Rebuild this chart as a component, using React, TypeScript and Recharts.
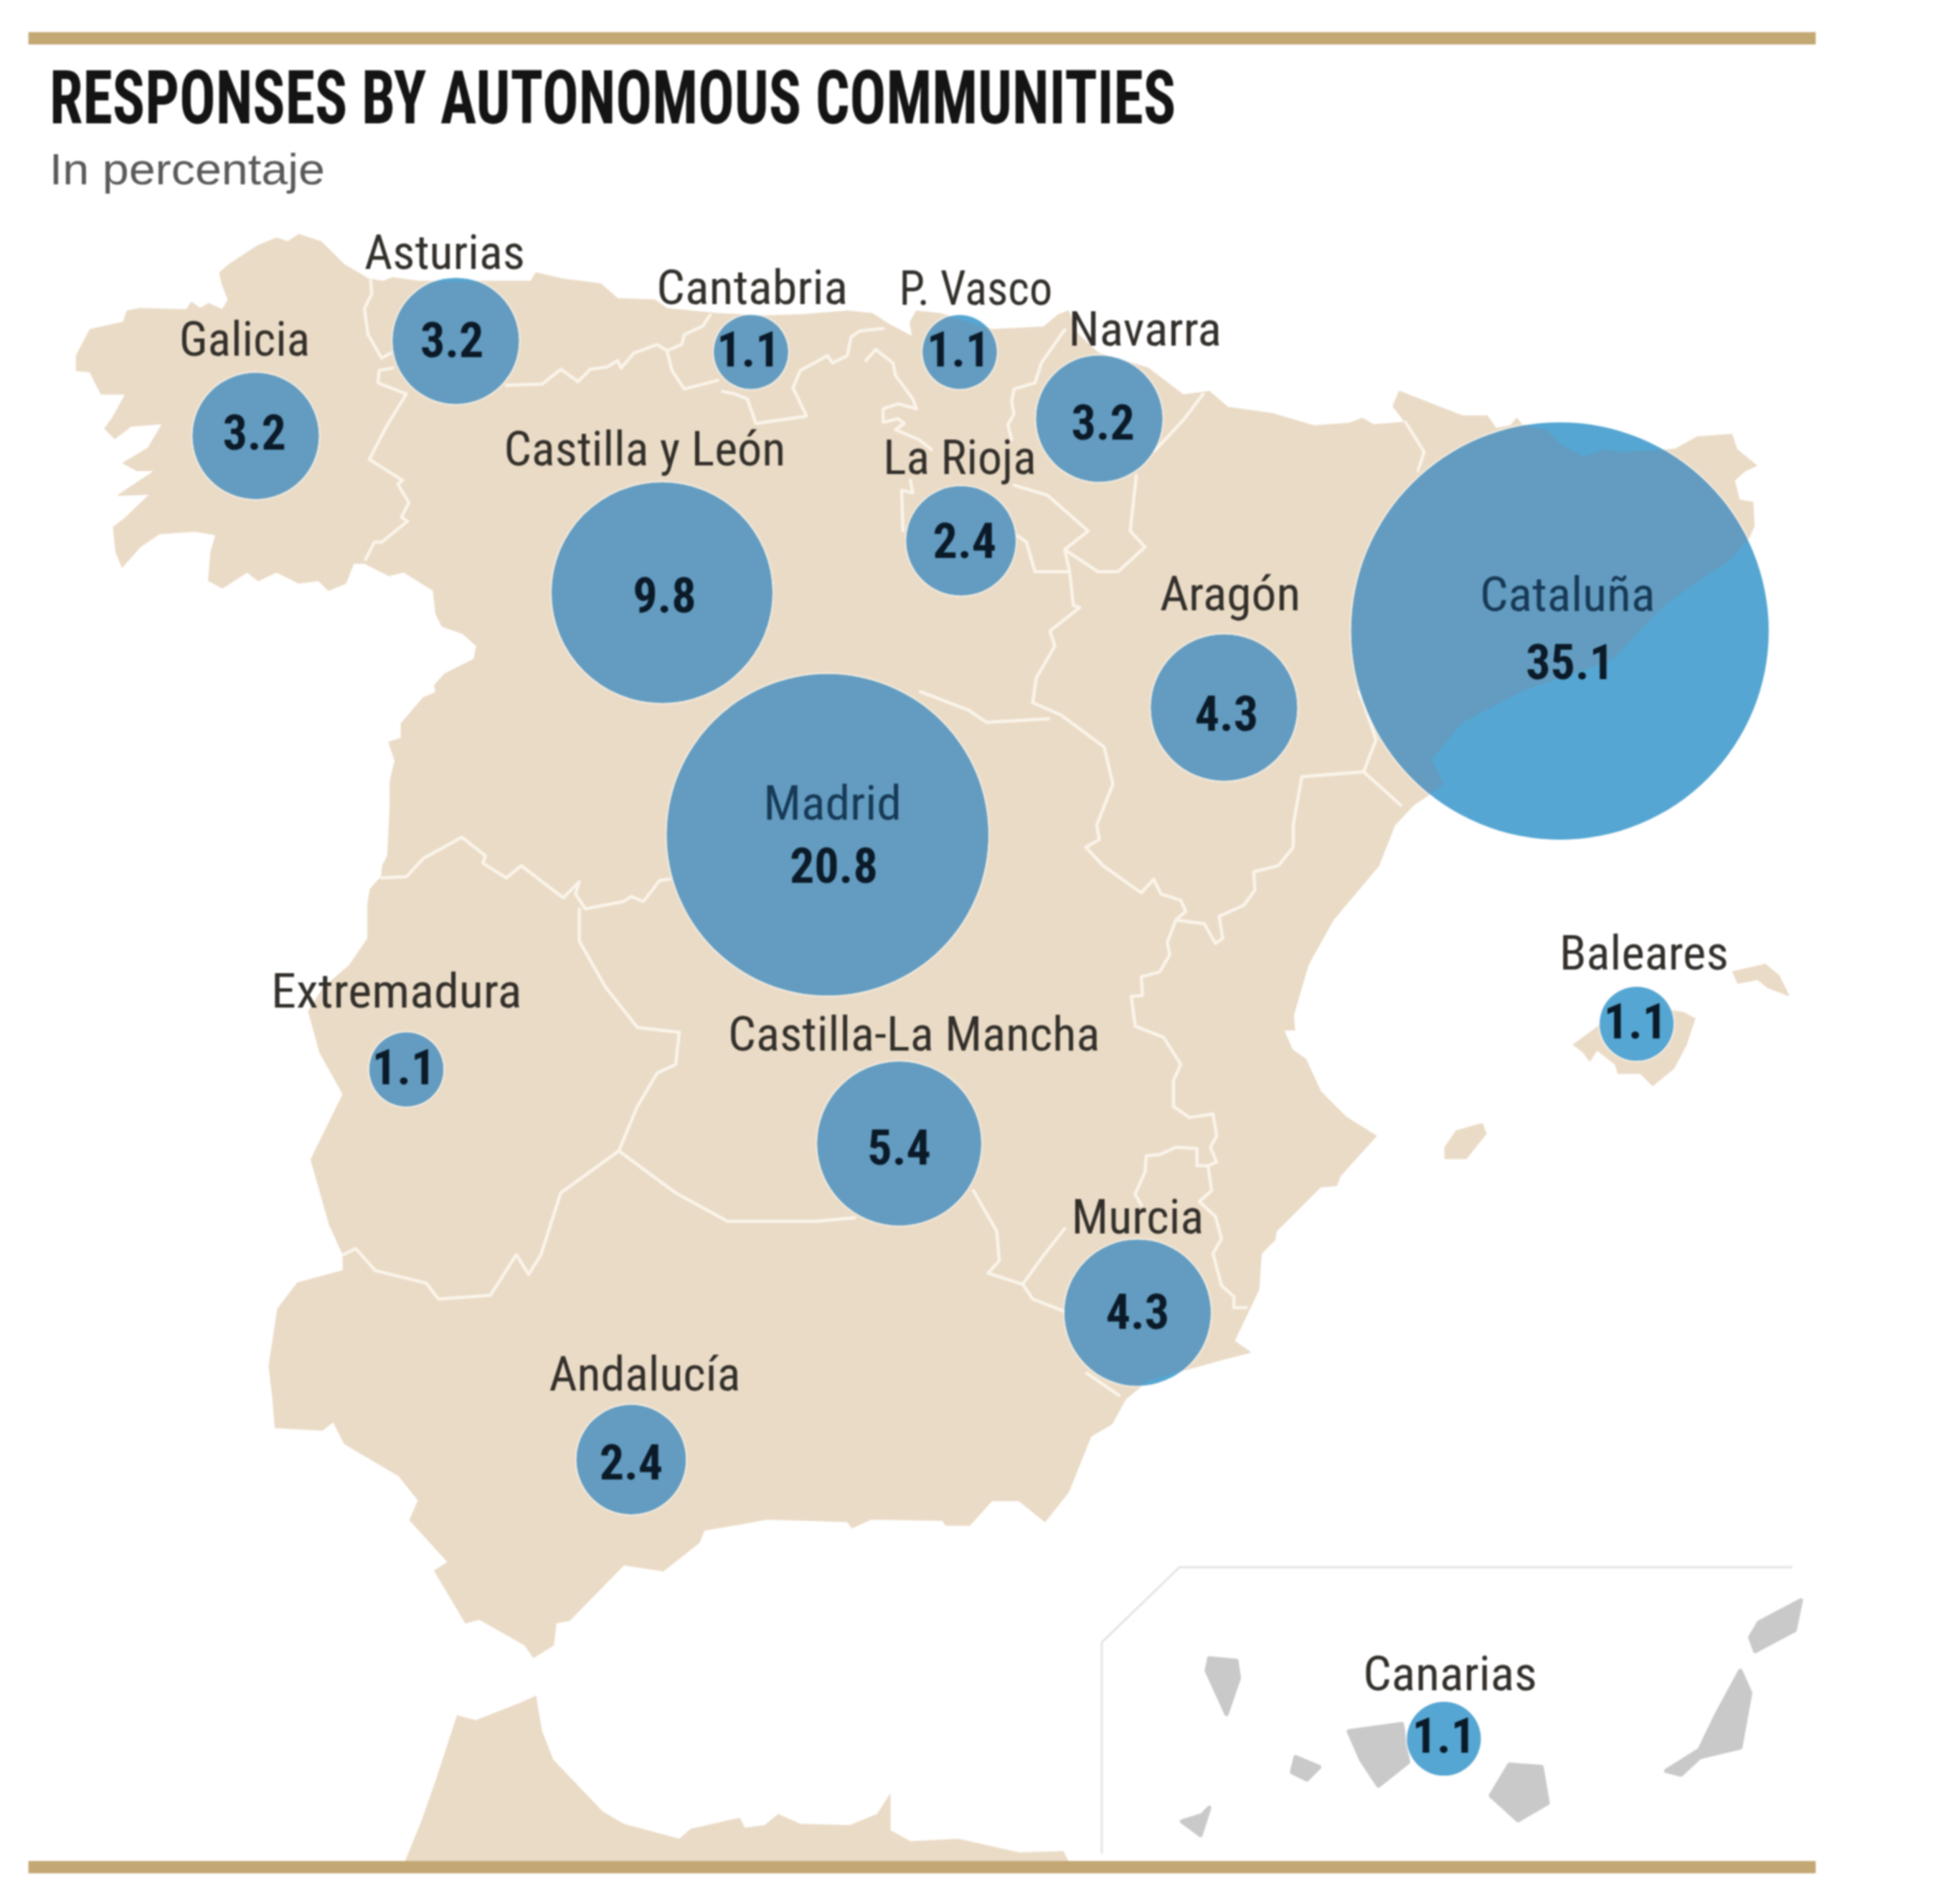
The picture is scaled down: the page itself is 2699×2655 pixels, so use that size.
import React from 'react';
import { ScatterChart, Scatter, XAxis, YAxis, ZAxis, Customized } from 'recharts';

const W = 2699, H = 2655, DW = 1567.4, DH = 1541.8;
const K = W / DW;

const regions = ['Galicia','Asturias','Cantabria','P. Vasco','Navarra','Castilla y León','La Rioja','Aragón','Cataluña','Madrid','Extremadura','Castilla-La Mancha','Murcia','Andalucía','Baleares','Canarias'];
const shares = [3.2,3.2,1.1,1.1,3.2,9.8,2.4,4.3,35.1,20.8,1.1,5.4,4.3,2.4,1.1,1.1];
const bubbleX = [207,369,608,777,890,536,778,991,1263,670,329,728,921,511,1325,1169];
const bubbleY = [353,276,285,285,339,480,438,573,511,676,866,926,1063,1182,829,1408];
const nameX = [198,360,609,790,927,522,777,996,1269,674,321,740,921,522,1331,1174];
const nameY = [288,218,246,247,280,377,384,494,495,664,816,851,999,1126,785,1369];
const nameW = [106,130,155,124,124,228,124,114,142,112,203,301,107,155,137,141];
const valueX = [206,366,606,776,893,538,781,993,1271,675,327,728,921,511,1324,1169];
const valueY = [364,289,297,297,356,496,452,592,550,715,878,943,1076,1198,841,1419];

const bubbles = regions.map((name, i) => ({ name, v: shares[i], x: bubbleX[i], y: bubbleY[i] }));
const names = regions.map((name, i) => ({ name, x: nameX[i], y: nameY[i], w: nameW[i] }));
const values = regions.map((_, i) => ({ v: shares[i], x: valueX[i], y: valueY[i] }));

type P = number[][];
const mainland: P = [[242,190],[260,196],[278,214],[298,226],[310,228],[318,225],[339,228],[399,228],[430,228],[434,221],[455,226],[486,230],[500,242],[530,243],[540,250],[581,254],[620,256],[650,255],[686,252],[706,254],[720,263],[739,273],[737,261],[742,252],[761,254],[804,267],[845,265],[857,255],[865,252],[872,270],[889,286],[929,298],[958,320],[979,317],[994,330],[1030,335],[1064,345],[1092,343],[1103,339],[1112,344],[1138,342],[1128,329],[1133,317],[1184,337],[1204,337],[1211,347],[1223,345],[1228,339],[1232,344],[1252,348],[1264,360],[1282,370],[1298,364],[1310,366],[1356,364],[1374,354],[1402,352],[1406,364],[1422,377],[1413,381],[1404,389],[1408,405],[1419,407],[1420,426],[1415,437],[1399,455],[1383,465],[1349,489],[1304,535],[1234,559],[1184,585],[1159,615],[1169,635],[1144,652],[1129,668],[1116,701],[1079,745],[1059,781],[1047,822],[1048,834],[1039,834],[1046,850],[1057,858],[1069,884],[1090,905],[1114,920],[1085,952],[1082,960],[1069,961],[1033,997],[1032,1004],[1021,1015],[1019,1044],[999,1086],[1012,1095],[989,1101],[960,1109],[929,1118],[911,1133],[900,1153],[883,1163],[865,1208],[846,1232],[825,1215],[803,1215],[785,1235],[766,1235],[763,1231],[705,1230],[690,1237],[686,1232],[621,1230],[599,1234],[570,1239],[566,1249],[537,1272],[505,1267],[461,1312],[450,1314],[448,1332],[432,1342],[425,1332],[388,1311],[377,1314],[352,1272],[363,1265],[332,1231],[339,1215],[323,1195],[279,1169],[270,1151],[261,1158],[223,1156],[221,1132],[218,1106],[225,1060],[241,1039],[278,1029],[278,1016],[267,992],[252,939],[278,886],[259,852],[250,819],[262,800],[283,782],[298,760],[298,732],[300,720],[309,710],[310,701],[314,693],[316,654],[316,633],[320,616],[315,601],[325,598],[325,586],[343,565],[353,561],[352,555],[360,546],[384,534],[386,523],[375,513],[358,507],[353,497],[351,478],[327,463],[315,466],[295,456],[286,456],[280,472],[266,478],[258,470],[242,472],[224,463],[209,470],[200,463],[180,476],[169,470],[171,447],[175,433],[158,430],[129,432],[113,443],[99,459],[94,447],[92,427],[100,421],[122,400],[96,401],[126,381],[111,381],[100,375],[120,363],[132,343],[106,345],[93,355],[85,347],[91,339],[102,319],[82,319],[73,301],[62,300],[62,288],[73,267],[100,261],[103,252],[113,250],[151,251],[155,245],[162,250],[169,246],[180,251],[185,243],[180,230],[178,221],[186,214],[209,199],[224,193],[233,196]];
const morocco: P = [[328,1507],[341,1475],[354,1438],[370,1389],[385,1393],[421,1379],[434,1373],[439,1402],[448,1425],[488,1467],[505,1477],[550,1489],[559,1481],[599,1472],[603,1480],[619,1478],[630,1469],[648,1477],[688,1478],[710,1469],[721,1452],[721,1482],[737,1491],[776,1489],[825,1500],[861,1499],[865,1507]];
const mallorca: P = [[1274,846],[1293,832],[1326,801],[1355,819],[1363,820],[1372,825],[1365,846],[1355,865],[1338,879],[1328,869],[1310,869],[1308,862],[1293,850],[1287,859],[1282,852]];
const menorca: P = [[1403,787],[1429,781],[1440,790],[1448,806],[1432,800],[1423,793],[1407,796]];
const ibiza: P = [[1179,916],[1200,910],[1203,918],[1187,938],[1170,938],[1170,929]];
const laPalma: P = [[979,1343],[1001,1345],[1003,1359],[993,1388],[977,1353]];
const tenerife: P = [[1092,1402],[1135,1396],[1140,1427],[1116,1446],[1102,1425]];
const gomera: P = [[1049,1423],[1068,1431],[1058,1441],[1046,1435]];
const hierro: P = [[979,1464],[972,1486],[957,1475],[973,1470]];
const granCanaria: P = [[1222,1429],[1248,1431],[1253,1460],[1229,1474],[1207,1454]];
const fuerteventura: P = [[1409,1353],[1417,1371],[1409,1415],[1376,1423],[1361,1437],[1349,1434],[1376,1417],[1390,1388]];
const lanzarote: P = [[1458,1296],[1453,1320],[1421,1337],[1417,1326],[1424,1314]];
const insetFrame: P = [[892,1501],[892,1330],[955,1269],[1451,1269]];

const borders: P[] = [
  [[300,226],[301,238],[295,250],[298,271],[309,290],[316,286]],
  [[318,298],[307,300],[306,310],[329,319],[313,345],[299,372],[326,389],[322,392],[331,407],[325,419],[330,422],[309,439],[303,439],[296,453]],
  [[410,312],[439,311],[454,299],[468,309],[478,299],[492,297],[500,292],[503,298],[513,286],[532,279],[540,284],[544,300],[554,315],[581,308]],
  [[540,284],[552,279],[554,271],[569,264],[575,255]],
  [[585,317],[595,319],[605,323],[612,343],[653,337],[642,314],[648,300],[670,288],[674,294],[686,288],[689,273],[696,268],[715,266]],
  [[701,292],[709,283],[723,294],[725,304],[739,323],[742,331],[727,327],[715,331],[715,342],[727,339],[732,343],[725,348],[744,356],[754,364]],
  [[737,389],[739,399],[730,397],[731,430]],
  [[862,267],[843,294],[838,310],[821,315],[819,325],[821,335],[816,344],[819,356]],
  [[821,393],[848,401],[881,430],[862,445],[866,463],[838,463],[831,439],[824,434]],
  [[862,445],[889,463],[905,463],[927,443],[915,430],[920,385]],
  [[974,319],[959,339],[935,365]],
  [[866,463],[869,490],[874,492],[850,511],[854,523],[839,549],[836,569],[859,579],[894,605],[901,635],[888,668],[890,680],[879,686],[893,701],[924,723],[934,712],[940,724],[956,729],[960,738],[952,745]],
  [[849,582],[799,585],[784,575],[745,560]],
  [[1138,342],[1153,366],[1148,381]],
  [[1100,560],[1104,569],[1114,599],[1104,625],[1134,652]],
  [[1104,625],[1054,629],[1047,668],[1047,686],[1035,701],[1015,706],[1016,721],[1007,733],[987,742],[990,760],[984,764],[975,748],[952,745]],
  [[952,745],[945,763],[947,773],[939,787],[924,791],[925,806],[916,807],[919,831],[942,840],[956,862],[950,875],[950,896],[963,905],[982,902],[985,920],[980,929],[985,941],[978,944],[981,964],[971,973],[984,985],[989,1003],[982,1015],[989,1041],[999,1050],[999,1059],[1009,1059]],
  [[978,944],[969,944],[969,930],[952,929],[939,935],[928,936],[927,949],[919,967],[924,976]],
  [[862,995],[846,1015],[828,1040]],
  [[788,964],[807,997],[809,1021],[800,1031],[828,1040],[836,1052],[862,1062]],
  [[880,1112],[906,1130]],
  [[501,932],[547,966],[589,989],[661,989],[692,986]],
  [[469,736],[469,762],[490,799],[516,832],[550,836],[547,862],[532,869],[516,896],[501,932]],
  [[501,932],[454,966],[438,1016],[428,1032],[418,1016],[397,1049],[355,1052],[345,1039],[304,1029],[288,1011],[278,1016]],
  [[309,711],[329,710],[343,695],[374,678],[393,693],[391,699],[410,711],[422,701],[456,727],[469,714],[466,724],[474,736],[505,730],[511,726],[521,730],[534,713],[542,712]],
];

const sx = (v: number) => v * K;
const d = (p: P, close = true) => p.map((q, i) => `${i ? 'L' : 'M'}${sx(q[0]).toFixed(1)} ${sx(q[1]).toFixed(1)}`).join(' ') + (close ? ' Z' : '');

const LAND = '#EADBC6', GREY = '#C9C9C9', GOLD = '#C3A874', BUBBLE_SEA = '#55A6D2', BUBBLE_LAND = '#639CC0';
const NARROW = '"Liberation Sans Narrow","Roboto Condensed","Liberation Sans",sans-serif';

const MapLayer = () => (
  <g>
    <defs>
      <clipPath id="landClip"><path d={d(mainland)} /></clipPath>
    </defs>
    <rect x={sx(23)} y={sx(26)} width={sx(1447)} height={sx(10)} fill={GOLD} />
    <path d={d(morocco)} fill={LAND} />
    <path d={d(mainland)} fill={LAND} stroke={LAND} strokeWidth={2} strokeLinejoin="round" />
    {[mallorca, menorca, ibiza].map((p, i) => (
      <path key={i} d={d(p)} fill={LAND} stroke={LAND} strokeWidth={2} strokeLinejoin="round" />
    ))}
    {borders.map((p, i) => (
      <path key={i} d={d(p, false)} fill="none" stroke="#FAF4EA" strokeWidth={4.5} strokeLinejoin="round" strokeLinecap="round" />
    ))}
    {[laPalma, tenerife, gomera, hierro, granCanaria, fuerteventura, lanzarote].map((p, i) => (
      <path key={i} d={d(p)} fill={GREY} stroke={GREY} strokeWidth={6} strokeLinejoin="round" />
    ))}
    <path d={d(insetFrame, false)} fill="none" stroke="#E4E4E2" strokeWidth={3} />
    <rect x={sx(23)} y={sx(1507)} width={sx(1447)} height={sx(10)} fill={GOLD} />
    <text x={sx(40)} y={sx(100)} fontFamily={NARROW} fontWeight={700} fontSize={104} fill="#141414"
      textLength={sx(912)} lengthAdjust="spacingAndGlyphs">RESPONSES BY AUTONOMOUS COMMUNITIES</text>
    <text x={sx(40)} y={sx(149)} fontFamily={'"Liberation Sans",sans-serif'} fontSize={62} fill="#5A5A5A"
      textLength={sx(223)} lengthAdjust="spacingAndGlyphs">In percentaje</text>
  </g>
);

const BubbleShape = (props: any) => {
  const { cx, cy, size } = props;
  const r = Math.sqrt(size / Math.PI);
  return (
    <g>
      <circle cx={cx} cy={cy} r={r + 2.5} fill="#FFFFFF" fillOpacity={0.4} />
      <circle cx={cx} cy={cy} r={r} fill={BUBBLE_SEA} />
      <circle cx={cx} cy={cy} r={r} fill={BUBBLE_LAND} clipPath="url(#landClip)" />
    </g>
  );
};

const NameShape = (props: any) => {
  const { cx, cy, payload } = props;
  const over = payload.name === 'Madrid' || payload.name === 'Cataluña';
  return (
    <text x={cx} y={cy} textAnchor="middle" fontFamily={NARROW} fontSize={66} fill={over ? '#173A56' : '#33302B'}
      textLength={payload.w * K} lengthAdjust="spacingAndGlyphs">{payload.name}</text>
  );
};

const ValueShape = (props: any) => {
  const { cx, cy, payload } = props;
  return (
    <text x={cx} y={cy} textAnchor="middle" fontFamily={NARROW} fontWeight={700} fontSize={68} fill="#0B1A28">
      {payload.v.toFixed(1)}
    </text>
  );
};

export default function App() {
  return (
    <div style={{ position: 'absolute', left: 0, top: 0, width: W, height: H, background: '#FFFFFF', filter: 'blur(1.2px)' }}>
      <ScatterChart width={W} height={H} margin={{ top: 0, right: 0, bottom: 0, left: 0 }}>
        <XAxis type="number" dataKey="x" domain={[0, DW]} hide allowDataOverflow />
        <YAxis type="number" dataKey="y" domain={[0, DH]} reversed hide allowDataOverflow />
        <ZAxis type="number" dataKey="v" domain={[0, 35.1]} range={[0, 266000]} />
        <Customized component={MapLayer} />
        <Scatter data={bubbles} shape={BubbleShape} isAnimationActive={false} />
        <Scatter data={names} shape={NameShape} isAnimationActive={false} />
        <Scatter data={values} shape={ValueShape} isAnimationActive={false} />
      </ScatterChart>
    </div>
  );
}
